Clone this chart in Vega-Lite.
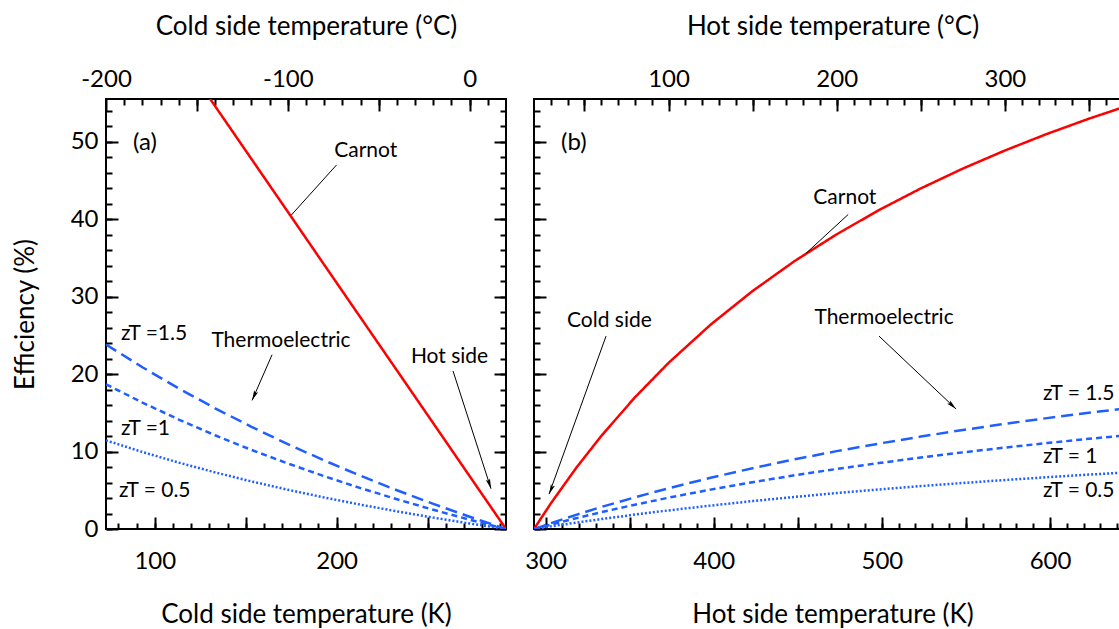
{
"$schema": "https://vega.github.io/schema/vega-lite/v6.json",
"padding": {"left": 11, "top": 12, "right": 0, "bottom": 0},
"spacing": 15,
"config": {
  "font": "Lato",
  "view": {"stroke": "#000000", "strokeWidth": 2},
  "axis": {"domain": false, "grid": false, "tickColor": "#000000", "tickWidth": 2, "labelColor": "#000000", "titleColor": "#000000", "labelFont": "Lato", "titleFont": "Lato", "labelFontSize": 24, "titleFontSize": 26, "titleFontWeight": "normal", "labelFlush": false, "labelOverlap": false},
  "text": {"font": "Lato", "fontSize": 21, "color": "#000000"}
},
"datasets": {
  "curvesA": [
    {"T": 73.15, "e": 75.05, "s": "Carnot"}, {"T": 93.15, "e": 68.22, "s": "Carnot"}, {"T": 113.15, "e": 61.40, "s": "Carnot"}, {"T": 133.15, "e": 54.58, "s": "Carnot"}, {"T": 153.15, "e": 47.76, "s": "Carnot"}, {"T": 173.15, "e": 40.94, "s": "Carnot"}, {"T": 193.15, "e": 34.11, "s": "Carnot"}, {"T": 213.15, "e": 27.29, "s": "Carnot"}, {"T": 233.15, "e": 20.47, "s": "Carnot"}, {"T": 253.15, "e": 13.65, "s": "Carnot"}, {"T": 273.15, "e": 6.82, "s": "Carnot"}, {"T": 293.15, "e": 0, "s": "Carnot"},
    {"T": 73.15, "e": 23.82, "s": "zT15"}, {"T": 93.15, "e": 20.88, "s": "zT15"}, {"T": 113.15, "e": 18.14, "s": "zT15"}, {"T": 133.15, "e": 15.58, "s": "zT15"}, {"T": 153.15, "e": 13.19, "s": "zT15"}, {"T": 173.15, "e": 10.95, "s": "zT15"}, {"T": 193.15, "e": 8.85, "s": "zT15"}, {"T": 213.15, "e": 6.87, "s": "zT15"}, {"T": 233.15, "e": 5.00, "s": "zT15"}, {"T": 253.15, "e": 3.24, "s": "zT15"}, {"T": 273.15, "e": 1.58, "s": "zT15"}, {"T": 293.15, "e": 0, "s": "zT15"},
    {"T": 73.15, "e": 18.68, "s": "zT1"}, {"T": 93.15, "e": 16.32, "s": "zT1"}, {"T": 113.15, "e": 14.13, "s": "zT1"}, {"T": 133.15, "e": 12.10, "s": "zT1"}, {"T": 153.15, "e": 10.21, "s": "zT1"}, {"T": 173.15, "e": 8.46, "s": "zT1"}, {"T": 193.15, "e": 6.82, "s": "zT1"}, {"T": 213.15, "e": 5.28, "s": "zT1"}, {"T": 233.15, "e": 3.84, "s": "zT1"}, {"T": 253.15, "e": 2.48, "s": "zT1"}, {"T": 273.15, "e": 1.20, "s": "zT1"}, {"T": 293.15, "e": 0, "s": "zT1"},
    {"T": 73.15, "e": 11.44, "s": "zT05"}, {"T": 93.15, "e": 9.94, "s": "zT05"}, {"T": 113.15, "e": 8.57, "s": "zT05"}, {"T": 133.15, "e": 7.31, "s": "zT05"}, {"T": 153.15, "e": 6.14, "s": "zT05"}, {"T": 173.15, "e": 5.07, "s": "zT05"}, {"T": 193.15, "e": 4.07, "s": "zT05"}, {"T": 213.15, "e": 3.14, "s": "zT05"}, {"T": 233.15, "e": 2.28, "s": "zT05"}, {"T": 253.15, "e": 1.47, "s": "zT05"}, {"T": 273.15, "e": 0.71, "s": "zT05"}, {"T": 293.15, "e": 0, "s": "zT05"}
  ],
  "curvesB": [
    {"T": 293.15, "e": 0, "s": "Carnot"}, {"T": 303.15, "e": 3.30, "s": "Carnot"}, {"T": 318.15, "e": 7.86, "s": "Carnot"}, {"T": 333.15, "e": 12.01, "s": "Carnot"}, {"T": 353.15, "e": 16.99, "s": "Carnot"}, {"T": 373.15, "e": 21.44, "s": "Carnot"}, {"T": 398.15, "e": 26.37, "s": "Carnot"}, {"T": 423.15, "e": 30.72, "s": "Carnot"}, {"T": 448.15, "e": 34.59, "s": "Carnot"}, {"T": 473.15, "e": 38.04, "s": "Carnot"}, {"T": 498.15, "e": 41.15, "s": "Carnot"}, {"T": 523.15, "e": 43.96, "s": "Carnot"}, {"T": 548.15, "e": 46.52, "s": "Carnot"}, {"T": 573.15, "e": 48.85, "s": "Carnot"}, {"T": 598.15, "e": 50.99, "s": "Carnot"}, {"T": 623.15, "e": 52.96, "s": "Carnot"}, {"T": 648.15, "e": 54.77, "s": "Carnot"},
    {"T": 293.15, "e": 0, "s": "zT15"}, {"T": 303.15, "e": 0.75, "s": "zT15"}, {"T": 318.15, "e": 1.82, "s": "zT15"}, {"T": 333.15, "e": 2.84, "s": "zT15"}, {"T": 353.15, "e": 4.09, "s": "zT15"}, {"T": 373.15, "e": 5.26, "s": "zT15"}, {"T": 398.15, "e": 6.61, "s": "zT15"}, {"T": 423.15, "e": 7.85, "s": "zT15"}, {"T": 448.15, "e": 8.99, "s": "zT15"}, {"T": 473.15, "e": 10.05, "s": "zT15"}, {"T": 498.15, "e": 11.02, "s": "zT15"}, {"T": 523.15, "e": 11.93, "s": "zT15"}, {"T": 548.15, "e": 12.78, "s": "zT15"}, {"T": 573.15, "e": 13.57, "s": "zT15"}, {"T": 598.15, "e": 14.31, "s": "zT15"}, {"T": 623.15, "e": 15.00, "s": "zT15"}, {"T": 648.15, "e": 15.65, "s": "zT15"},
    {"T": 293.15, "e": 0, "s": "zT1"}, {"T": 303.15, "e": 0.57, "s": "zT1"}, {"T": 318.15, "e": 1.39, "s": "zT1"}, {"T": 333.15, "e": 2.17, "s": "zT1"}, {"T": 353.15, "e": 3.14, "s": "zT1"}, {"T": 373.15, "e": 4.04, "s": "zT1"}, {"T": 398.15, "e": 5.08, "s": "zT1"}, {"T": 423.15, "e": 6.04, "s": "zT1"}, {"T": 448.15, "e": 6.93, "s": "zT1"}, {"T": 473.15, "e": 7.75, "s": "zT1"}, {"T": 498.15, "e": 8.51, "s": "zT1"}, {"T": 523.15, "e": 9.22, "s": "zT1"}, {"T": 548.15, "e": 9.89, "s": "zT1"}, {"T": 573.15, "e": 10.51, "s": "zT1"}, {"T": 598.15, "e": 11.09, "s": "zT1"}, {"T": 623.15, "e": 11.64, "s": "zT1"}, {"T": 648.15, "e": 12.15, "s": "zT1"},
    {"T": 293.15, "e": 0, "s": "zT05"}, {"T": 303.15, "e": 0.34, "s": "zT05"}, {"T": 318.15, "e": 0.82, "s": "zT05"}, {"T": 333.15, "e": 1.28, "s": "zT05"}, {"T": 353.15, "e": 1.86, "s": "zT05"}, {"T": 373.15, "e": 2.40, "s": "zT05"}, {"T": 398.15, "e": 3.02, "s": "zT05"}, {"T": 423.15, "e": 3.60, "s": "zT05"}, {"T": 448.15, "e": 4.14, "s": "zT05"}, {"T": 473.15, "e": 4.64, "s": "zT05"}, {"T": 498.15, "e": 5.10, "s": "zT05"}, {"T": 523.15, "e": 5.54, "s": "zT05"}, {"T": 548.15, "e": 5.94, "s": "zT05"}, {"T": 573.15, "e": 6.32, "s": "zT05"}, {"T": 598.15, "e": 6.68, "s": "zT05"}, {"T": 623.15, "e": 7.02, "s": "zT05"}, {"T": 648.15, "e": 7.34, "s": "zT05"}
  ]
},
"hconcat": [
{
  "width": 400, "height": 430,
  "resolve": {"axis": {"x": "independent", "y": "independent"}},
  "layer": [
    {
      "data": {"name": "curvesA"},
      "mark": {"type": "line", "clip": true, "strokeWidth": 2.5},
      "encoding": {
        "x": {"field": "T", "type": "quantitative", "scale": {"domain": [73.15, 293.15], "nice": false, "zero": false},
              "axis": {"orient": "bottom", "values": [100, 150, 200, 250], "tickSize": -12, "labelPadding": 32, "labelExpr": "datum.value % 100 === 0 ? datum.label : ''", "title": "Cold side temperature (K)", "minExtent": 45, "maxExtent": 45, "titlePadding": 27}},
        "y": {"field": "e", "type": "quantitative", "scale": {"domain": [0, 55.5], "nice": false, "zero": false},
              "axis": {"orient": "left", "values": [0, 10, 20, 30, 40, 50], "tickSize": -12, "labelPadding": 20, "title": "Efficiency (%)", "minExtent": 40, "maxExtent": 40, "titlePadding": 28}},
        "color": {"field": "s", "type": "nominal", "scale": {"domain": ["Carnot", "zT15", "zT1", "zT05"], "range": ["#ff0000", "#1f5fff", "#1f5fff", "#1f5fff"]}, "legend": null},
        "strokeDash": {"field": "s", "type": "nominal", "scale": {"domain": ["Carnot", "zT15", "zT1", "zT05"], "range": [[1, 0], [12, 6], [6, 4], [2, 2]]}, "legend": null}
      }
    },
    {
      "data": {"name": "curvesA"},
      "mark": {"type": "point", "opacity": 0, "clip": true},
      "encoding": {
        "x": {"field": "T", "type": "quantitative", "scale": {"domain": [73.15, 293.15], "nice": false, "zero": false},
              "axis": {"orient": "bottom", "values": [80, 90, 100, 110, 120, 130, 140, 150, 160, 170, 180, 190, 200, 210, 220, 230, 240, 250, 260, 270, 280, 290], "tickSize": -6, "labels": false, "title": null, "minExtent": 0, "maxExtent": 0}},
        "y": {"field": "e", "type": "quantitative", "scale": {"domain": [0, 55.5], "nice": false, "zero": false},
              "axis": {"orient": "left", "values": [0, 2, 4, 6, 8, 10, 12, 14, 16, 18, 20, 22, 24, 26, 28, 30, 32, 34, 36, 38, 40, 42, 44, 46, 48, 50, 52, 54], "tickSize": -6, "labels": false, "title": null, "minExtent": 0, "maxExtent": 0}}
      }
    },
    {
      "data": {"name": "curvesA"},
      "mark": {"type": "point", "opacity": 0, "clip": true},
      "encoding": {
        "x": {"field": "T", "type": "quantitative", "scale": {"domain": [73.15, 293.15], "nice": false, "zero": false},
              "axis": {"orient": "top", "values": [73.15, 123.15, 173.15, 223.15, 273.15], "tickSize": -12, "labelPadding": 20, "labelExpr": "round(datum.value - 273.15) % 100 === 0 ? (datum.value < 273 ? '-' + abs(round(datum.value - 273.15)) : '' + round(datum.value - 273.15)) : ''", "title": "Cold side temperature (°C)", "minExtent": 30, "maxExtent": 30, "titlePadding": 30}},
        "y": {"field": "e", "type": "quantitative", "scale": {"domain": [0, 55.5], "nice": false, "zero": false},
              "axis": {"orient": "right", "values": [0, 10, 20, 30, 40, 50], "tickSize": -12, "labels": false, "title": null, "minExtent": 0, "maxExtent": 0}}
      }
    },
    {
      "data": {"name": "curvesA"},
      "mark": {"type": "point", "opacity": 0, "clip": true},
      "encoding": {
        "x": {"field": "T", "type": "quantitative", "scale": {"domain": [73.15, 293.15], "nice": false, "zero": false},
              "axis": {"orient": "top", "values": [83.15, 93.15, 103.15, 113.15, 123.15, 133.15, 143.15, 153.15, 163.15, 173.15, 183.15, 193.15, 203.15, 213.15, 223.15, 233.15, 243.15, 253.15, 263.15, 273.15, 283.15], "tickSize": -6, "labels": false, "title": null, "minExtent": 0, "maxExtent": 0}},
        "y": {"field": "e", "type": "quantitative", "scale": {"domain": [0, 55.5], "nice": false, "zero": false},
              "axis": {"orient": "right", "values": [0, 2, 4, 6, 8, 10, 12, 14, 16, 18, 20, 22, 24, 26, 28, 30, 32, 34, 36, 38, 40, 42, 44, 46, 48, 50, 52, 54], "tickSize": -6, "labels": false, "title": null, "minExtent": 0, "maxExtent": 0}}
      }
    },
    {
      "data": {"values": [
        {"T": 200, "e": 47, "id": "c"}, {"T": 175, "e": 40.5, "id": "c"},
        {"T": 164.5, "e": 22.5, "id": "t"}, {"T": 153.5, "e": 16.6, "id": "t"},
        {"T": 264, "e": 20.4, "id": "h"}, {"T": 284.9, "e": 5.2, "id": "h"}
      ]},
      "mark": {"type": "line", "color": "#000000", "strokeWidth": 1},
      "encoding": {
        "x": {"field": "T", "type": "quantitative", "scale": {"domain": [73.15, 293.15], "nice": false, "zero": false}, "axis": null},
        "y": {"field": "e", "type": "quantitative", "scale": {"domain": [0, 55.5], "nice": false, "zero": false}, "axis": null},
        "detail": {"field": "id", "type": "nominal"}
      }
    },
    {
      "data": {"values": [{"T": 153.5, "e": 16.6}]},
      "mark": {"type": "point", "shape": "M0,0L0.35,1.6L0,1.3L-0.35,1.6Z", "filled": true, "color": "#000000", "opacity": 1, "size": 156, "angle": 204},
      "encoding": {
        "x": {"field": "T", "type": "quantitative", "scale": {"domain": [73.15, 293.15], "nice": false, "zero": false}, "axis": null},
        "y": {"field": "e", "type": "quantitative", "scale": {"domain": [0, 55.5], "nice": false, "zero": false}, "axis": null}
      }
    },
    {
      "data": {"values": [{"T": 284.9, "e": 5.2}]},
      "mark": {"type": "point", "shape": "M0,0L0.35,1.6L0,1.3L-0.35,1.6Z", "filled": true, "color": "#000000", "opacity": 1, "size": 156, "angle": 162},
      "encoding": {
        "x": {"field": "T", "type": "quantitative", "scale": {"domain": [73.15, 293.15], "nice": false, "zero": false}, "axis": null},
        "y": {"field": "e", "type": "quantitative", "scale": {"domain": [0, 55.5], "nice": false, "zero": false}, "axis": null}
      }
    },
    {
      "data": {"values": [
        {"T": 216, "e": 48.8, "label": "Carnot"},
        {"T": 169.4, "e": 24.3, "label": "Thermoelectric"},
        {"T": 262.1, "e": 22.2, "label": "Hot side"}
      ]},
      "mark": {"type": "text", "align": "center", "baseline": "middle", "fontSize": 21},
      "encoding": {
        "x": {"field": "T", "type": "quantitative", "scale": {"domain": [73.15, 293.15], "nice": false, "zero": false}, "axis": null},
        "y": {"field": "e", "type": "quantitative", "scale": {"domain": [0, 55.5], "nice": false, "zero": false}, "axis": null},
        "text": {"field": "label", "type": "nominal"}
      }
    },
    {
      "data": {"values": [
        {"T": 81.4, "e": 25.2, "label": "zT =1.5"},
        {"T": 81.4, "e": 12.9, "label": "zT =1"},
        {"T": 80.3, "e": 4.9, "label": "zT = 0.5"}
      ]},
      "mark": {"type": "text", "align": "left", "baseline": "middle", "fontSize": 21},
      "encoding": {
        "x": {"field": "T", "type": "quantitative", "scale": {"domain": [73.15, 293.15], "nice": false, "zero": false}, "axis": null},
        "y": {"field": "e", "type": "quantitative", "scale": {"domain": [0, 55.5], "nice": false, "zero": false}, "axis": null},
        "text": {"field": "label", "type": "nominal"}
      }
    },
    {
      "data": {"values": [{"T": 88, "e": 49.8, "label": "(a)"}]},
      "mark": {"type": "text", "align": "left", "baseline": "middle", "fontSize": 24},
      "encoding": {
        "x": {"field": "T", "type": "quantitative", "scale": {"domain": [73.15, 293.15], "nice": false, "zero": false}, "axis": null},
        "y": {"field": "e", "type": "quantitative", "scale": {"domain": [0, 55.5], "nice": false, "zero": false}, "axis": null},
        "text": {"field": "label", "type": "nominal"}
      }
    }
  ]
},
{
  "width": 597, "height": 430,
  "resolve": {"axis": {"x": "independent", "y": "independent"}},
  "layer": [
    {
      "data": {"name": "curvesB"},
      "mark": {"type": "line", "clip": true, "strokeWidth": 2.5},
      "encoding": {
        "x": {"field": "T", "type": "quantitative", "scale": {"domain": [293.15, 648.15], "nice": false, "zero": false},
              "axis": {"orient": "bottom", "values": [300, 350, 400, 450, 500, 550, 600], "tickSize": -12, "labelPadding": 32, "labelExpr": "datum.value % 100 === 0 ? datum.label : ''", "title": "Hot side temperature (K)", "minExtent": 45, "maxExtent": 45, "titlePadding": 27}},
        "y": {"field": "e", "type": "quantitative", "scale": {"domain": [0, 55.5], "nice": false, "zero": false},
              "axis": {"orient": "left", "values": [0, 10, 20, 30, 40, 50], "tickSize": -12, "labels": false, "title": null, "minExtent": 0, "maxExtent": 0}},
        "color": {"field": "s", "type": "nominal", "scale": {"domain": ["Carnot", "zT15", "zT1", "zT05"], "range": ["#ff0000", "#1f5fff", "#1f5fff", "#1f5fff"]}, "legend": null},
        "strokeDash": {"field": "s", "type": "nominal", "scale": {"domain": ["Carnot", "zT15", "zT1", "zT05"], "range": [[1, 0], [12, 6], [6, 4], [2, 2]]}, "legend": null}
      }
    },
    {
      "data": {"name": "curvesB"},
      "mark": {"type": "point", "opacity": 0, "clip": true},
      "encoding": {
        "x": {"field": "T", "type": "quantitative", "scale": {"domain": [293.15, 648.15], "nice": false, "zero": false},
              "axis": {"orient": "bottom", "values": [300, 310, 320, 330, 340, 350, 360, 370, 380, 390, 400, 410, 420, 430, 440, 450, 460, 470, 480, 490, 500, 510, 520, 530, 540, 550, 560, 570, 580, 590, 600, 610, 620, 630, 640], "tickSize": -6, "labels": false, "title": null, "minExtent": 0, "maxExtent": 0}},
        "y": {"field": "e", "type": "quantitative", "scale": {"domain": [0, 55.5], "nice": false, "zero": false},
              "axis": {"orient": "left", "values": [0, 2, 4, 6, 8, 10, 12, 14, 16, 18, 20, 22, 24, 26, 28, 30, 32, 34, 36, 38, 40, 42, 44, 46, 48, 50, 52, 54], "tickSize": -6, "labels": false, "title": null, "minExtent": 0, "maxExtent": 0}}
      }
    },
    {
      "data": {"name": "curvesB"},
      "mark": {"type": "point", "opacity": 0, "clip": true},
      "encoding": {
        "x": {"field": "T", "type": "quantitative", "scale": {"domain": [293.15, 648.15], "nice": false, "zero": false},
              "axis": {"orient": "top", "values": [323.15, 373.15, 423.15, 473.15, 523.15, 573.15, 623.15], "tickSize": -12, "labelPadding": 20, "labelExpr": "round(datum.value - 273.15) % 100 === 0 ? '' + round(datum.value - 273.15) : ''", "title": "Hot side temperature (°C)", "minExtent": 30, "maxExtent": 30, "titlePadding": 30}},
        "y": {"field": "e", "type": "quantitative", "scale": {"domain": [0, 55.5], "nice": false, "zero": false},
              "axis": {"orient": "right", "values": [0, 10, 20, 30, 40, 50], "tickSize": -12, "labels": false, "title": null, "minExtent": 0, "maxExtent": 0}}
      }
    },
    {
      "data": {"name": "curvesB"},
      "mark": {"type": "point", "opacity": 0, "clip": true},
      "encoding": {
        "x": {"field": "T", "type": "quantitative", "scale": {"domain": [293.15, 648.15], "nice": false, "zero": false},
              "axis": {"orient": "top", "values": [303.15, 313.15, 323.15, 333.15, 343.15, 353.15, 363.15, 373.15, 383.15, 393.15, 403.15, 413.15, 423.15, 433.15, 443.15, 453.15, 463.15, 473.15, 483.15, 493.15, 503.15, 513.15, 523.15, 533.15, 543.15, 553.15, 563.15, 573.15, 583.15, 593.15, 603.15, 613.15, 623.15, 633.15, 643.15], "tickSize": -6, "labels": false, "title": null, "minExtent": 0, "maxExtent": 0}},
        "y": {"field": "e", "type": "quantitative", "scale": {"domain": [0, 55.5], "nice": false, "zero": false},
              "axis": {"orient": "right", "values": [0, 2, 4, 6, 8, 10, 12, 14, 16, 18, 20, 22, 24, 26, 28, 30, 32, 34, 36, 38, 40, 42, 44, 46, 48, 50, 52, 54], "tickSize": -6, "labels": false, "title": null, "minExtent": 0, "maxExtent": 0}}
      }
    },
    {
      "data": {"values": [
        {"T": 480, "e": 40.6, "id": "c"}, {"T": 455, "e": 35.6, "id": "c"},
        {"T": 336, "e": 24.9, "id": "k"}, {"T": 302.1, "e": 4.5, "id": "k"},
        {"T": 498.3, "e": 24.9, "id": "t"}, {"T": 544.1, "e": 15.5, "id": "t"}
      ]},
      "mark": {"type": "line", "color": "#000000", "strokeWidth": 1},
      "encoding": {
        "x": {"field": "T", "type": "quantitative", "scale": {"domain": [293.15, 648.15], "nice": false, "zero": false}, "axis": null},
        "y": {"field": "e", "type": "quantitative", "scale": {"domain": [0, 55.5], "nice": false, "zero": false}, "axis": null},
        "detail": {"field": "id", "type": "nominal"}
      }
    },
    {
      "data": {"values": [{"T": 302.1, "e": 4.5}]},
      "mark": {"type": "point", "shape": "M0,0L0.35,1.6L0,1.3L-0.35,1.6Z", "filled": true, "color": "#000000", "opacity": 1, "size": 156, "angle": 203},
      "encoding": {
        "x": {"field": "T", "type": "quantitative", "scale": {"domain": [293.15, 648.15], "nice": false, "zero": false}, "axis": null},
        "y": {"field": "e", "type": "quantitative", "scale": {"domain": [0, 55.5], "nice": false, "zero": false}, "axis": null}
      }
    },
    {
      "data": {"values": [{"T": 544.1, "e": 15.5}]},
      "mark": {"type": "point", "shape": "M0,0L0.35,1.6L0,1.3L-0.35,1.6Z", "filled": true, "color": "#000000", "opacity": 1, "size": 156, "angle": 133},
      "encoding": {
        "x": {"field": "T", "type": "quantitative", "scale": {"domain": [293.15, 648.15], "nice": false, "zero": false}, "axis": null},
        "y": {"field": "e", "type": "quantitative", "scale": {"domain": [0, 55.5], "nice": false, "zero": false}, "axis": null}
      }
    },
    {
      "data": {"values": [
        {"T": 478, "e": 42.7, "label": "Carnot"},
        {"T": 501.3, "e": 27.2, "label": "Thermoelectric"},
        {"T": 338, "e": 26.8, "label": "Cold side"}
      ]},
      "mark": {"type": "text", "align": "center", "baseline": "middle", "fontSize": 21},
      "encoding": {
        "x": {"field": "T", "type": "quantitative", "scale": {"domain": [293.15, 648.15], "nice": false, "zero": false}, "axis": null},
        "y": {"field": "e", "type": "quantitative", "scale": {"domain": [0, 55.5], "nice": false, "zero": false}, "axis": null},
        "text": {"field": "label", "type": "nominal"}
      }
    },
    {
      "data": {"values": [
        {"T": 595.8, "e": 17.4, "label": "zT = 1.5"},
        {"T": 595.8, "e": 9.3, "label": "zT = 1"},
        {"T": 595.8, "e": 4.9, "label": "zT = 0.5"}
      ]},
      "mark": {"type": "text", "align": "left", "baseline": "middle", "fontSize": 21},
      "encoding": {
        "x": {"field": "T", "type": "quantitative", "scale": {"domain": [293.15, 648.15], "nice": false, "zero": false}, "axis": null},
        "y": {"field": "e", "type": "quantitative", "scale": {"domain": [0, 55.5], "nice": false, "zero": false}, "axis": null},
        "text": {"field": "label", "type": "nominal"}
      }
    },
    {
      "data": {"values": [{"T": 309.2, "e": 49.8, "label": "(b)"}]},
      "mark": {"type": "text", "align": "left", "baseline": "middle", "fontSize": 24},
      "encoding": {
        "x": {"field": "T", "type": "quantitative", "scale": {"domain": [293.15, 648.15], "nice": false, "zero": false}, "axis": null},
        "y": {"field": "e", "type": "quantitative", "scale": {"domain": [0, 55.5], "nice": false, "zero": false}, "axis": null},
        "text": {"field": "label", "type": "nominal"}
      }
    }
  ]
}
]
}
